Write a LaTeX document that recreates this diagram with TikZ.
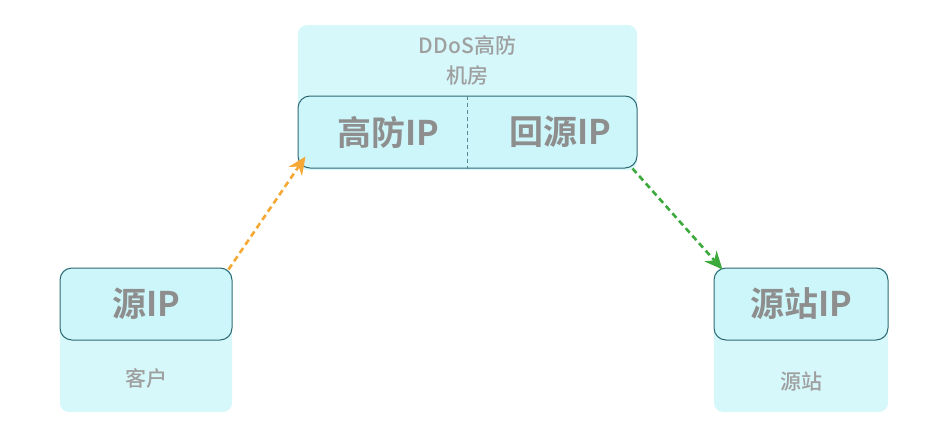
\documentclass[tikz,border=0pt]{standalone}
\usepackage{fontspec}
\setmainfont{Noto Sans CJK SC}[BoldFont={Noto Sans CJK SC Bold}]
\newfontfamily\medfont{Noto Sans CJK SC Medium}
\usetikzlibrary{positioning,arrows.meta}
\definecolor{roomfill}{HTML}{D6F8FB}
\definecolor{ipfill}{HTML}{CDF6FA}
\definecolor{ipline}{HTML}{2F6A74}
\definecolor{txtgray}{HTML}{8E8E8E}
\definecolor{toorange}{HTML}{F5A833}
\definecolor{togreen}{HTML}{3BAA3A}

\begin{document}
\begin{tikzpicture}[x=1pt,y=-1pt,
    room/.style={rectangle, rounded corners=9pt, fill=roomfill, inner sep=0pt},
    ipbox/.style={rectangle, rounded corners=12pt, draw=ipline, line width=1pt, fill=ipfill,
      inner sep=0pt, minimum height=72pt, font=\bfseries\fontsize{34}{38}\selectfont, text=txtgray},
    iptext/.style={font=\bfseries\fontsize{34}{38}\selectfont, text=txtgray},
    lbl/.style={font=\medfont\fontsize{21}{30}\selectfont, text=txtgray!85},
    link/.style={line width=2.6pt, dash pattern=on 6pt off 4pt, -{Stealth[length=18pt,width=16pt]}}]
  \useasboundingbox (0,0) rectangle (946,434);
  % DDoS room
  \node [room, minimum width=339pt, minimum height=145pt] (room) at (467.5,97.5) {};
  \node [lbl, align=center] (roomname) at (467.5,60) {DDoS高防\\机房};
  \node [ipbox, minimum width=339pt] (hf) at (467.5,132) {};
  \node [iptext] (hfip) at (388,132) {高防IP};
  \node [iptext] (hyip) at (560,132) {回源IP};
  \draw [ipline!80, line width=0.8pt, dash pattern=on 4pt off 3pt] (hf.north) -- (hf.south);
  % client
  \node [room, minimum width=172pt, minimum height=144pt] (client) at (146,340) {};
  \node [ipbox, minimum width=172pt] (src) at (146,304) {源IP};
  \node [lbl] (clientname) at (146,378) {客户};
  % origin
  \node [room, minimum width=174pt, minimum height=144pt] (site) at (801,340) {};
  \node [ipbox, minimum width=174pt] (orig) at (801,304) {源站IP};
  \node [lbl] (sitename) at (801,382) {源站};
  % links
  \draw [link, toorange] ([xshift=-4pt,yshift=-2pt]src.north east) -- ([xshift=8pt,yshift=12pt]hf.south west);
  \draw [link, togreen] ([xshift=-5pt]hf.south east) -- ([xshift=9pt,yshift=-2pt]orig.north west);
\end{tikzpicture}
\end{document}
